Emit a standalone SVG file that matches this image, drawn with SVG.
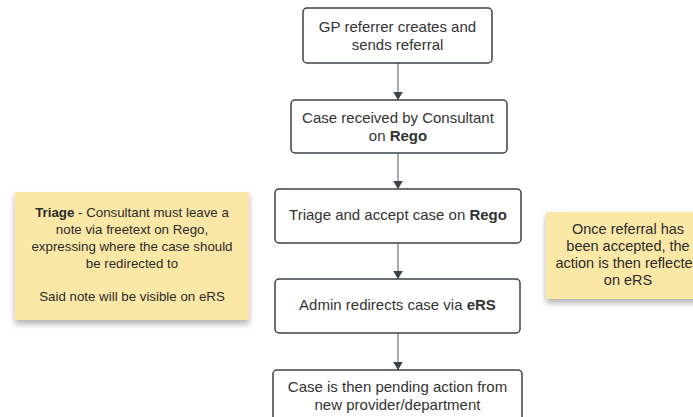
<svg xmlns="http://www.w3.org/2000/svg" width="693" height="417" viewBox="0 0 693 417">
  <defs>
    <style>
      .box { fill: #ffffff; stroke: #3d434b; stroke-width: 1.5; }
      .note { fill: #fbe8a7; }
      .t { font-family: "Liberation Sans", Arial, sans-serif; font-size: 15px; fill: #333333; text-anchor: middle; }
      .n { font-family: "Liberation Sans", Arial, sans-serif; font-size: 13.3px; fill: #2b2b2b; text-anchor: middle; }
      .n2 { font-family: "Liberation Sans", Arial, sans-serif; font-size: 14.5px; fill: #2b2b2b; text-anchor: middle; }
      .b { font-weight: bold; }
      .con { stroke: #6b7079; stroke-width: 1.2; fill: none; marker-end: url(#arr); }
    </style>
    <marker id="arr" viewBox="0 0 10 12" refX="10" refY="6" markerWidth="8" markerHeight="10" markerUnits="userSpaceOnUse" orient="auto">
      <path d="M0,0 L10,6 L0,12 Z" fill="#3d434b"/>
    </marker>
    <filter id="sh" x="-10%" y="-10%" width="120%" height="130%">
      <feDropShadow dx="0" dy="4" stdDeviation="3" flood-color="#000000" flood-opacity="0.3"/>
    </filter>
  </defs>
  <rect width="693" height="417" fill="#ffffff"/>

  <g id="connectors">
    <line class="con" x1="398" y1="63" x2="398" y2="100"/>
    <line class="con" x1="398" y1="153" x2="398" y2="189"/>
    <line class="con" x1="398" y1="243" x2="398" y2="279"/>
    <line class="con" x1="398" y1="333" x2="398" y2="370"/>
  </g>

  <g id="node-gp">
    <rect class="box" x="303" y="8" width="189" height="55" rx="4"/>
    <text class="t" x="397.5" y="32">GP referrer creates and</text>
    <text class="t" x="397.5" y="50">sends referral</text>
  </g>

  <g id="node-received">
    <rect class="box" x="291" y="100" width="216" height="53" rx="4"/>
    <text class="t" x="398" y="123">Case received by Consultant</text>
    <text class="t" x="398" y="141">on <tspan class="b">Rego</tspan></text>
  </g>

  <g id="node-triage">
    <rect class="box" x="275" y="189" width="246" height="54" rx="4"/>
    <text class="t" x="398" y="220">Triage and accept case on <tspan class="b">Rego</tspan></text>
  </g>

  <g id="node-admin">
    <rect class="box" x="275" y="279" width="245" height="54" rx="4"/>
    <text class="t" x="397.5" y="310">Admin redirects case via <tspan class="b">eRS</tspan></text>
  </g>

  <g id="node-pending">
    <rect class="box" x="273" y="370" width="249" height="56" rx="4"/>
    <text class="t" x="397.5" y="392">Case is then pending action from</text>
    <text class="t" x="397.5" y="410">new provider/department</text>
  </g>

  <g id="note-triage">
    <rect class="note" x="15" y="192" width="234" height="128" filter="url(#sh)"/>
    <text class="n" x="132" y="217"><tspan class="b">Triage</tspan> - Consultant must leave a</text>
    <text class="n" x="132" y="234">note via freetext on Rego,</text>
    <text class="n" x="132" y="251">expressing where the case should</text>
    <text class="n" x="132" y="268">be redirected to</text>
    <text class="n" x="132" y="301">Said note will be visible on eRS</text>
  </g>

  <g id="note-accepted">
    <rect class="note" x="546" y="212" width="165" height="87" filter="url(#sh)"/>
    <text class="n2" x="628" y="234">Once referral has</text>
    <text class="n2" x="628" y="251">been accepted, the</text>
    <text class="n2" x="628" y="268">action is then reflected</text>
    <text class="n2" x="628" y="285">on eRS</text>
  </g>
</svg>
